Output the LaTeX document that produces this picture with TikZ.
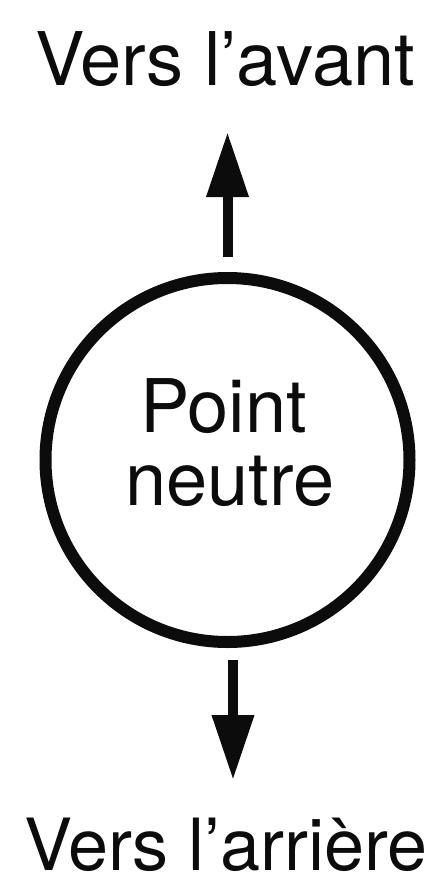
\documentclass[tikz,border=0pt]{standalone}
\usepackage{fontspec}
\setmainfont{TeX Gyre Heros}
\usetikzlibrary{arrows.meta,positioning}
\definecolor{InkBlack}{RGB}{12,12,12}
\tikzset{
  lbl/.style={font=\fontsize{74}{73}\selectfont,text=InkBlack,inner sep=0pt,anchor=base},
  neutral/.style={circle,draw=InkBlack,line width=12pt,minimum size=364pt,inner sep=0pt},
  dirarrow/.style={-{Triangle[length=65pt,width=40pt]},line width=10pt,draw=InkBlack,fill=InkBlack}
}
\begin{document}
\begin{tikzpicture}[x=1pt,y=-1pt]
  \useasboundingbox (0,0) rectangle (444,878);
  \node[neutral] (np) at (227.5,460) {};
  \node[lbl] (pt) at (223.5,432) {Point};
  \node[lbl] (nt) at (230,505) {neutre};
  \node[lbl] (fwd) at (225,85) {Vers l’avant};
  \node[lbl,font=\fontsize{72}{72}\selectfont] (bck) at (226,870) {Vers l’arrière};
  \coordinate (tipup) at (227.5,132);
  \coordinate (tipdn) at (233,780);
  \draw[dirarrow,shorten <=15pt] (np.north) -- (tipup);
  \draw[dirarrow,shorten <=12pt] ([xshift=5.5pt]np.south) -- (tipdn);
\end{tikzpicture}
\end{document}
